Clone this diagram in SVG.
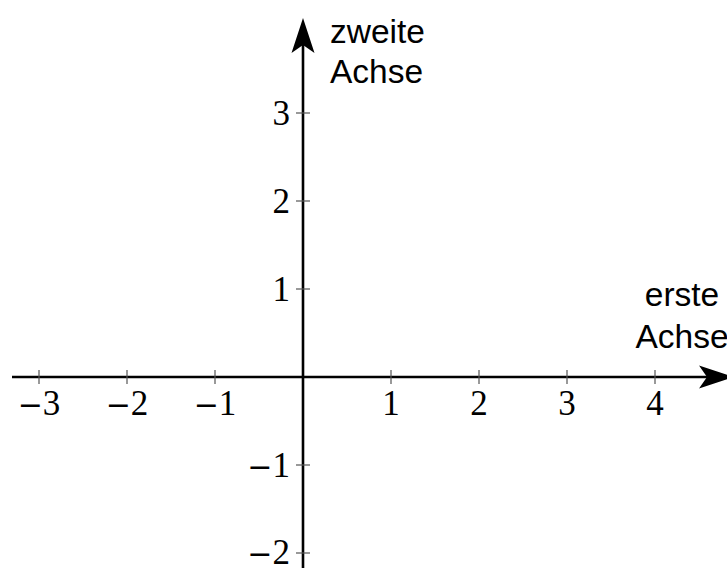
<svg xmlns="http://www.w3.org/2000/svg" width="727" height="568" viewBox="0 0 727 568">
<style>
.axis{stroke:#000;stroke-width:2.6;fill:none}
.tick{stroke:#555;stroke-width:1.2}
.num{font-family:"Liberation Serif","DejaVu Serif",serif;font-size:35px;fill:#000}
.mn{font-family:"DejaVu Serif",serif;font-size:30px}
.lbl{font-family:"Liberation Sans",Arial,sans-serif;font-size:33.5px;fill:#000}
.head{fill:#000}
</style>
<rect width="727" height="568" fill="#fff"/>
<g id="connectors">
<line class="axis" x1="12" y1="377" x2="712" y2="377"/>
<line class="axis" x1="303" y1="568" x2="303" y2="38"/>
<path class="head" d="M734,377 L699,365.5 L707,377 L699,388.5 Z"/>
<path class="head" d="M303,18 L291.5,53 L303,45 L314.5,53 Z"/>
</g>
<g id="ticks">
<line class="tick" x1="39" y1="370" x2="39" y2="384"/>
<line class="tick" x1="127" y1="370" x2="127" y2="384"/>
<line class="tick" x1="215" y1="370" x2="215" y2="384"/>
<line class="tick" x1="391" y1="370" x2="391" y2="384"/>
<line class="tick" x1="479" y1="370" x2="479" y2="384"/>
<line class="tick" x1="567" y1="370" x2="567" y2="384"/>
<line class="tick" x1="655" y1="370" x2="655" y2="384"/>
<line class="tick" x1="296" y1="113" x2="310" y2="113"/>
<line class="tick" x1="296" y1="201" x2="310" y2="201"/>
<line class="tick" x1="296" y1="289" x2="310" y2="289"/>
<line class="tick" x1="296" y1="465" x2="310" y2="465"/>
<line class="tick" x1="296" y1="553" x2="310" y2="553"/>
</g>
<g id="xlabels" class="num" text-anchor="middle">
<text x="39" y="415"><tspan class="mn">−</tspan>3</text>
<text x="127" y="415"><tspan class="mn">−</tspan>2</text>
<text x="215" y="415"><tspan class="mn">−</tspan>1</text>
<text x="391" y="415">1</text>
<text x="479" y="415">2</text>
<text x="567" y="415">3</text>
<text x="655" y="415">4</text>
</g>
<g id="ylabels" class="num" text-anchor="end">
<text x="290" y="125">3</text>
<text x="290" y="213">2</text>
<text x="290" y="301">1</text>
<text x="290" y="477"><tspan class="mn">−</tspan>1</text>
<text x="290" y="564"><tspan class="mn">−</tspan>2</text>
</g>
<g id="yaxis-label" class="lbl">
<text x="330" y="43">zweite</text>
<text x="330" y="83">Achse</text>
</g>
<g id="xaxis-label" class="lbl" text-anchor="middle">
<text x="682" y="306">erste</text>
<text x="682" y="348">Achse</text>
</g>
</svg>
